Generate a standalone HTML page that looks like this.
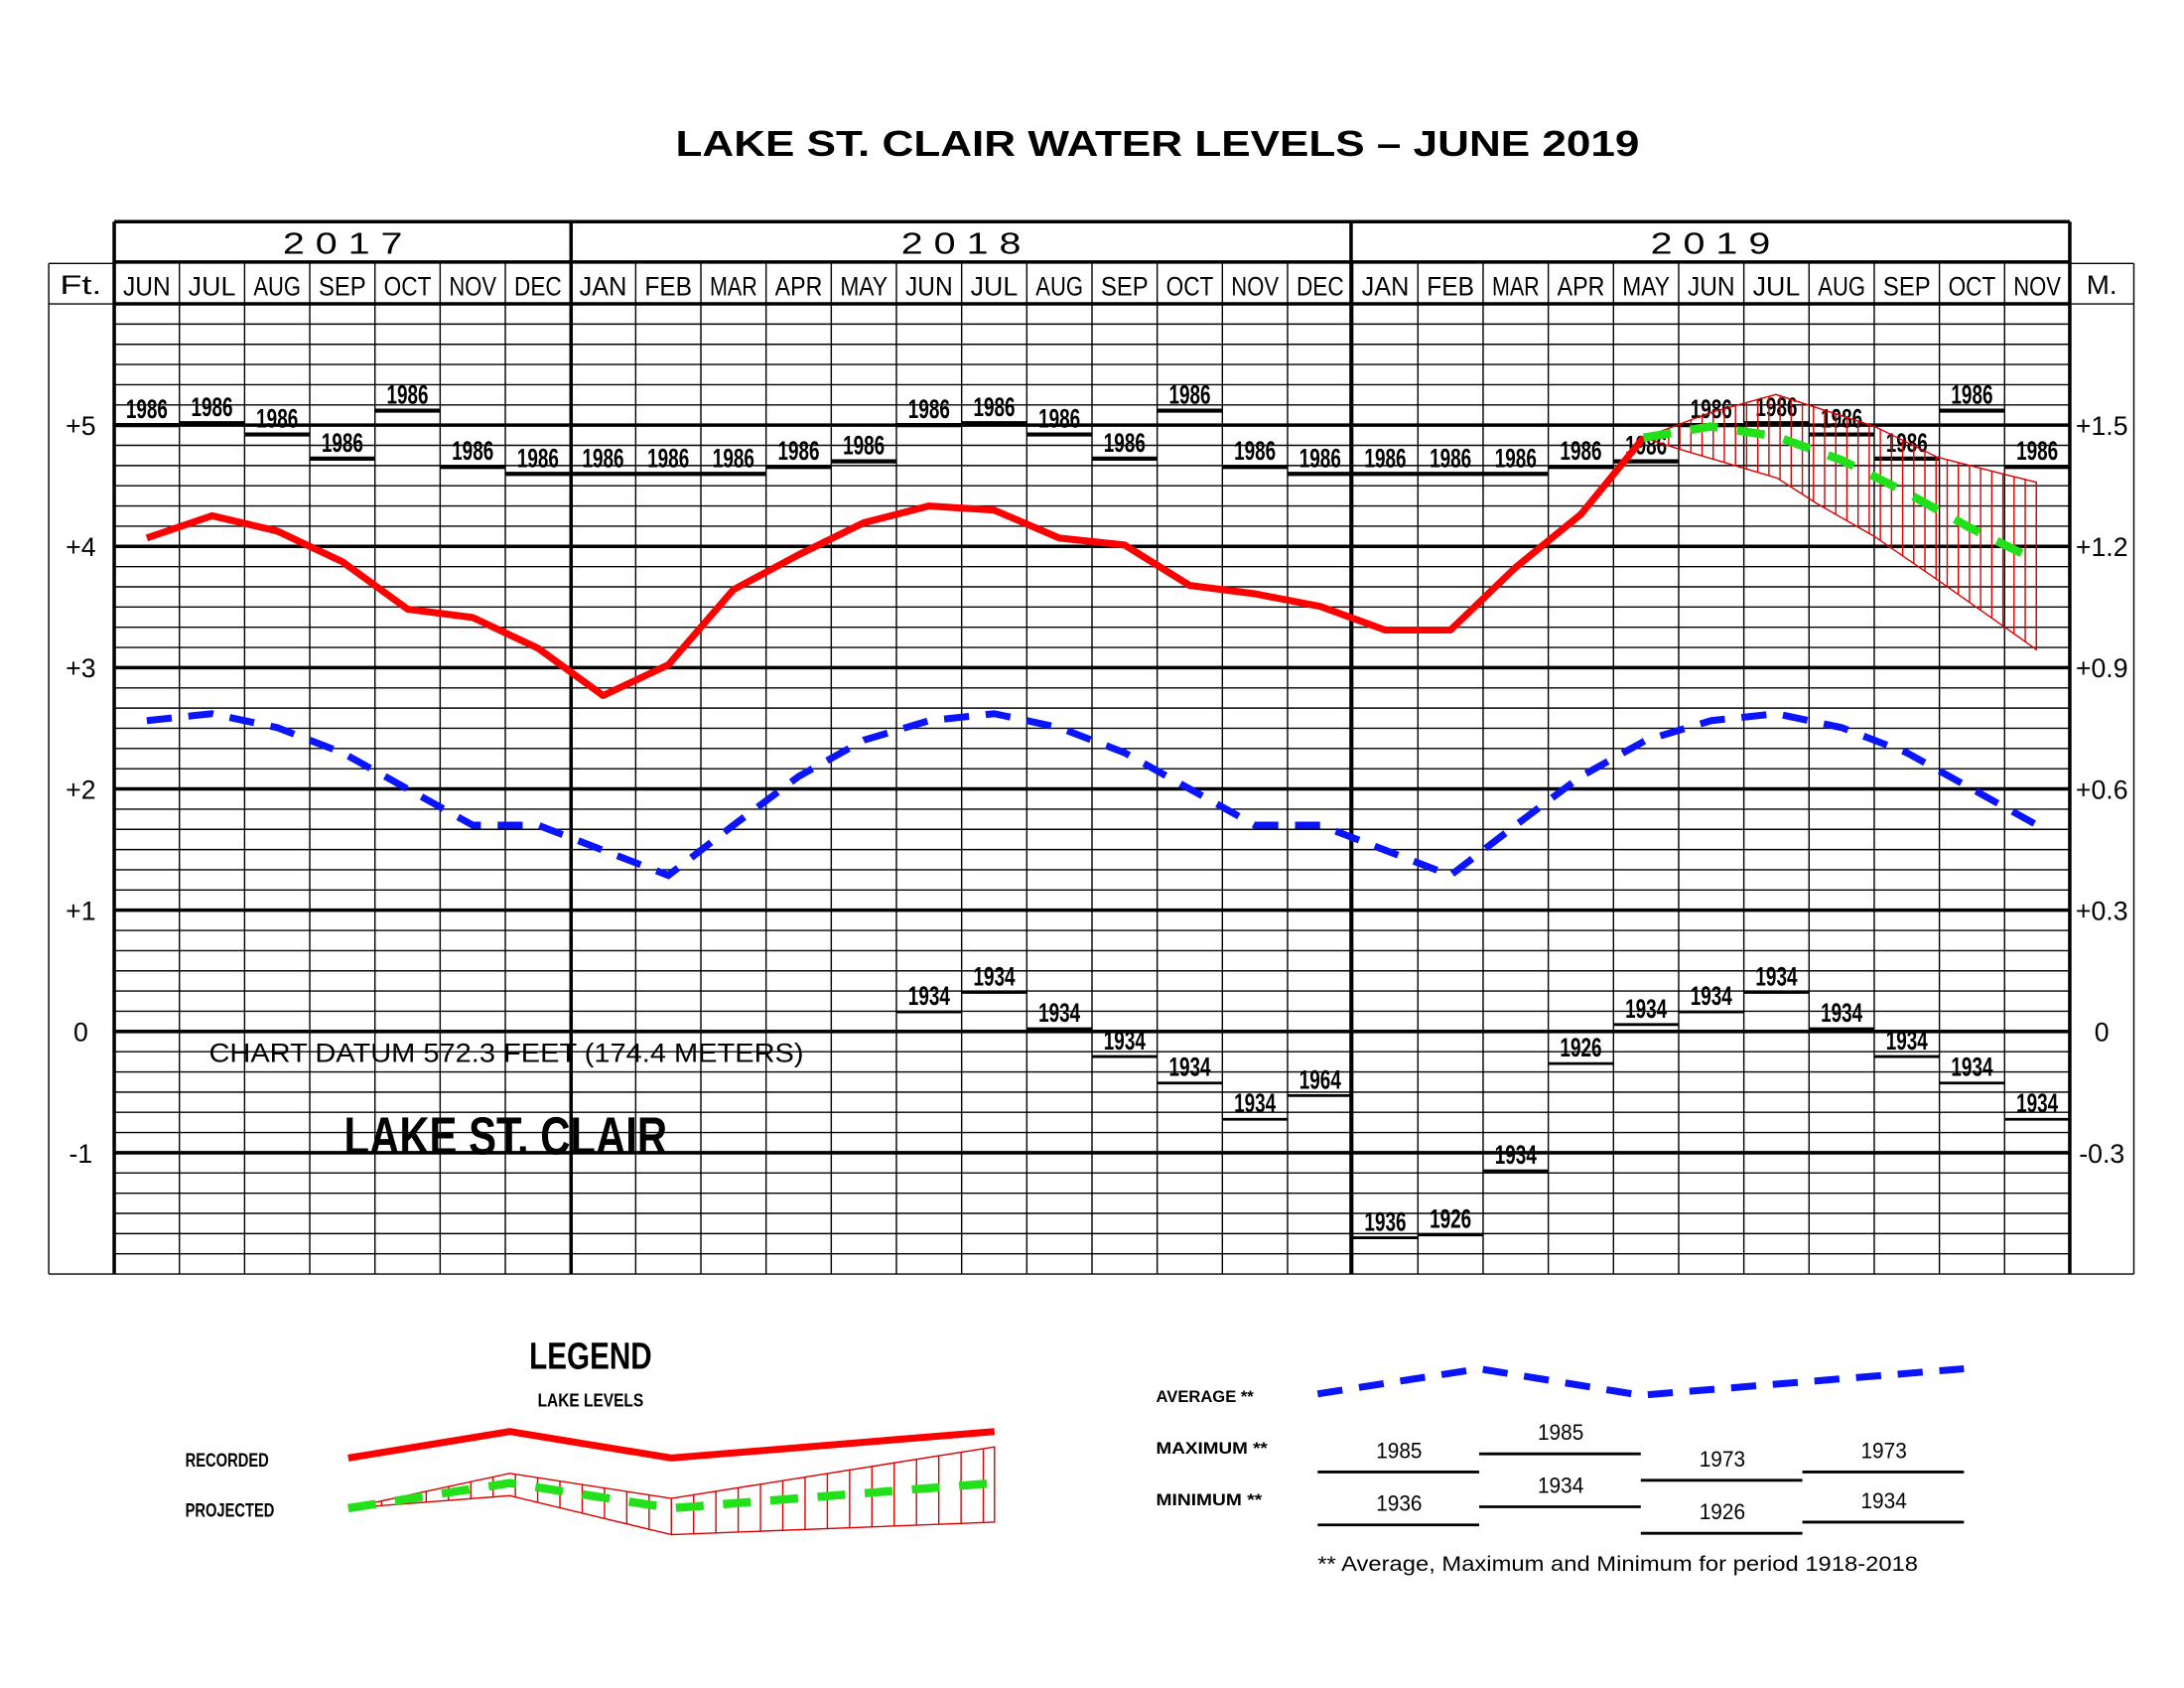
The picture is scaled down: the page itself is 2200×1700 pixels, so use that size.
<!DOCTYPE html>
<html><head><meta charset="utf-8"><style>
html,body{margin:0;padding:0;background:#fff;}
svg{display:block;}
</style></head><body>
<svg id="s" xmlns="http://www.w3.org/2000/svg" width="2200" height="1700" viewBox="0 0 1568 1211" preserveAspectRatio="none">
<rect width="1568" height="1211" fill="#fff"/>
<text x="485" y="112" textLength="692" lengthAdjust="spacingAndGlyphs" font-family="Liberation Sans, sans-serif" font-weight="bold" font-size="26">LAKE  ST. CLAIR  WATER  LEVELS  –  JUNE  2019</text>
<g id="g"></g>
</svg>
<script>
const NS="http://www.w3.org/2000/svg",g=document.getElementById('g');
function el(t,a,txt){const e=document.createElementNS(NS,t);for(const k in a)e.setAttribute(k,a[k]);if(txt!==undefined)e.textContent=txt;g.appendChild(e);return e;}
function line(x1,y1,x2,y2,w,c){el('line',{x1,y1,x2,y2,stroke:c||'#000','stroke-width':w||1});}
const L=82,R=1486,T=159,B=914,cw=(R-L)/30;
const yv=v=>740-v*87;
for(let i=0;i<=48;i++){const y=218+i*14.5;line(L,y,R,y,1);}
for(let v=-1;v<=5;v++)line(L,yv(v),R,yv(v),2.5);
for(let i=1;i<30;i++){const x=L+i*cw;line(x,188,x,B,1);}
line(410,T,410,B,2.5);line(970,T,970,B,2.5);
line(L,T,R,T,2.5);line(L,188,R,188,2.5);line(L,218,R,218,2.5);
line(L,T,L,B,2.5);line(R,T,R,B,2.5);
line(35,189,L,189,1);line(35,189,35,B,1);line(35,B,L,B,1);line(35,218,L,218,1);
line(R,189,1532,189,1);line(1532,189,1532,B,1);line(R,B,1532,B,1);line(R,218,1532,218,1);
const thin={'font-family':'Liberation Sans, sans-serif','font-size':19,fill:'#000','font-weight':'normal','lengthAdjust':'spacingAndGlyphs'};
function T1(x,y,s,len,extra){const a=Object.assign({x,y},thin,extra||{});if(len)a.textLength=len;return el('text',a,s);}
T1(43,211,'Ft.',30);
T1(1498,211,'M.',22);
const months=['JUN','JUL','AUG','SEP','OCT','NOV','DEC','JAN','FEB','MAR','APR','MAY','JUN','JUL','AUG','SEP','OCT','NOV','DEC','JAN','FEB','MAR','APR','MAY','JUN','JUL','AUG','SEP','OCT','NOV'];
months.forEach((m,i)=>T1(L+(i+.5)*cw-17,212,m,34));
[['2 0 1 7',246],['2 0 1 8',690],['2 0 1 9',1228]].forEach(a=>T1(a[1]-43,182,a[0],86,{'font-size':22}));
const lft=[['+5',5],['+4',4],['+3',3],['+2',2],['+1',1],['0',0],['-1',-1]];
const rgt=['+1.5','+1.2','+0.9','+0.6','+0.3','0','-0.3'];
lft.forEach((a,i)=>{el('text',Object.assign({x:58,y:yv(a[1])+7,'text-anchor':'middle'},thin),a[0]);el('text',Object.assign({x:1509,y:yv(a[1])+7,'text-anchor':'middle'},thin),rgt[i]);});
const mx=[305,303.6,311.7,329,294.6,335,340];
const mxAll=mx.concat([340,340,340,335,331]).concat(mx).concat([340,340,340,335,331]).concat(mx.slice(0,6));
const bold={'font-family':'Liberation Sans, sans-serif','font-size':19,'font-weight':'bold','lengthAdjust':'spacingAndGlyphs','textLength':30};
mxAll.forEach((y,i)=>{const x=L+i*cw;line(x,y,x+cw,y,3);el('text',Object.assign({x:x+cw/2-15,y:y-5},bold),'1986');});
const mn={12:[726,'1934'],13:[712,'1934'],14:[738,'1934'],15:[758,'1934'],16:[777,'1934'],17:[803,'1934'],18:[786,'1964'],
19:[888,'1936'],20:[886,'1926'],21:[840,'1934'],22:[763,'1926'],23:[735,'1934'],24:[726,'1934'],25:[712,'1934'],26:[738,'1934'],27:[758,'1934'],28:[777,'1934'],29:[803,'1934']};
for(const k in mn){const x=L+k*cw,y=mn[k][0];line(x,y,x+cw,y,2);el('text',Object.assign({x:x+cw/2-15,y:y-5},bold),mn[k][1]);}
T1(150,762,'CHART  DATUM   572.3  FEET  (174.4  METERS)',427);
el('text',{x:247,y:828,'font-family':'Liberation Sans, sans-serif','font-size':38,'font-weight':'bold',textLength:232,lengthAdjust:'spacingAndGlyphs'},'LAKE  ST. CLAIR');
const cx=i=>L+(i+.5)*cw;
const up=[[1180,314],[1228,296],[1275,283],[1346,306],[1391,328],[1438,340],[1462,346]];
const lo=[[1462,466],[1438,449],[1391,416],[1346,385],[1304,361],[1276,343],[1205,322],[1180,314]];
const pts=up.concat(lo).map(p=>p.join(',')).join(' ');
const cp=el('clipPath',{id:'cp'});const pp=document.createElementNS(NS,'polygon');pp.setAttribute('points',pts);cp.appendChild(pp);
const hg=el('g',{'clip-path':'url(#cp)'});
for(let x=1182;x<=1462;x+=8){const l=document.createElementNS(NS,'line');l.setAttribute('x1',x);l.setAttribute('x2',x);l.setAttribute('y1',270);l.setAttribute('y2',480);l.setAttribute('stroke','#d00');l.setAttribute('stroke-width',1);hg.appendChild(l);}
el('polygon',{points:pts,fill:'none',stroke:'#d00','stroke-width':1});
const avg=[517,512,522,540,566,592,592,610,628,592,557,531];
const avgAll=avg.concat(avg).concat(avg.slice(0,6));
el('polyline',{points:avgAll.map((y,i)=>cx(i)+','+y).join(' '),fill:'none',stroke:'#0a14ff','stroke-width':5,'stroke-dasharray':'18 12'});
const rec=[386,370,381,403,437,443,465,499,477,423,398,375,363,366,386,391,420,426,435,452,452,407,369];
let rp=rec.map((y,i)=>cx(i)+','+y);rp.push('1180,314');
el('polyline',{points:rp.join(' '),fill:'none',stroke:'#f00','stroke-width':5,'stroke-linejoin':'round'});
el('polyline',{points:'1180,314 1228,306 1275,313 1322,330 1368,353 1415,379 1462,402',fill:'none',stroke:'#22e01a','stroke-width':6,'stroke-dasharray':'20 14'});
el('text',{x:380,y:982,'font-family':'Liberation Sans, sans-serif','font-size':27,'font-weight':'bold',textLength:88,lengthAdjust:'spacingAndGlyphs'},'LEGEND');
el('text',{x:386,y:1009,'font-family':'Liberation Sans, sans-serif','font-size':13,'font-weight':'bold',textLength:76,lengthAdjust:'spacingAndGlyphs'},'LAKE  LEVELS');
const lb={'font-family':'Liberation Sans, sans-serif','font-size':14,'font-weight':'bold',lengthAdjust:'spacingAndGlyphs'};
el('text',Object.assign({x:133,y:1052,textLength:60},lb),'RECORDED');
el('text',Object.assign({x:133,y:1088,textLength:64},lb),'PROJECTED');
el('polyline',{points:'250,1046 366,1027 482,1046 714,1027',fill:'none',stroke:'#f00','stroke-width':5});
const lpts='250,1082 366,1057 482,1075 714,1038 714,1092 482,1101 366,1073';
const cp2=el('clipPath',{id:'cp2'});const pp2=document.createElementNS(NS,'polygon');pp2.setAttribute('points',lpts);cp2.appendChild(pp2);
const hg2=el('g',{'clip-path':'url(#cp2)'});
for(let x=258;x<=714;x+=16){const l=document.createElementNS(NS,'line');l.setAttribute('x1',x);l.setAttribute('x2',x);l.setAttribute('y1',1030);l.setAttribute('y2',1110);l.setAttribute('stroke','#d00');l.setAttribute('stroke-width',1);hg2.appendChild(l);}
el('polygon',{points:lpts,fill:'none',stroke:'#d00','stroke-width':1});
el('polyline',{points:'250,1082 366,1064 482,1082 714,1064',fill:'none',stroke:'#22e01a','stroke-width':6,'stroke-dasharray':'20 14'});
el('text',Object.assign({x:830,y:1006,textLength:70},lb,{'font-size':12}),'AVERAGE  **');
el('text',Object.assign({x:830,y:1043,textLength:80},lb,{'font-size':12}),'MAXIMUM  **');
el('text',Object.assign({x:830,y:1080,textLength:76},lb,{'font-size':12}),'MINIMUM  **');
el('polyline',{points:'946,1000 1062,982 1178,1001 1410,982',fill:'none',stroke:'#0a14ff','stroke-width':5,'stroke-dasharray':'18 12'});
[[946,1056,'1985'],[1062,1043,'1985'],[1178,1062,'1973'],[1294,1056,'1973'],[946,1094,'1936'],[1062,1081,'1934'],[1178,1100,'1926'],[1294,1092,'1934']].forEach(a=>{line(a[0],a[1],a[0]+116,a[1],2);T1(a[0]+42,a[1]-10,a[2],33,{'font-size':16});});
T1(946,1127,'** Average, Maximum and Minimum for period 1918-2018',431,{'font-size':15});
</script>
</body></html>
